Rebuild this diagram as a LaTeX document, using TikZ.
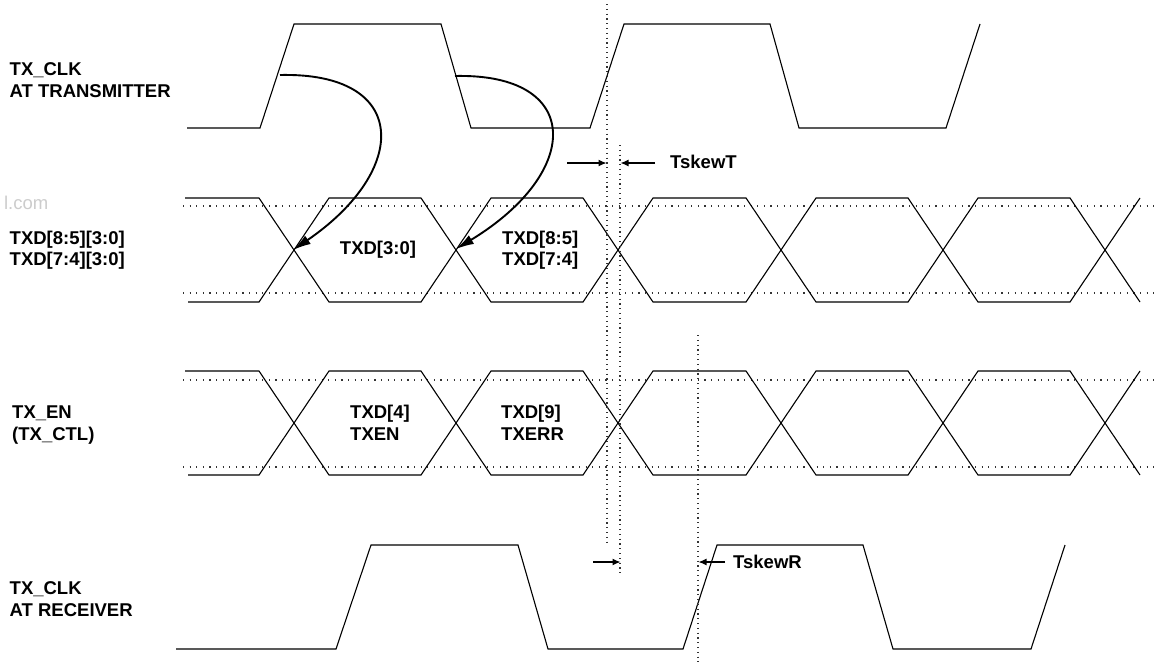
\documentclass[tikz,border=0pt]{standalone}
\usepackage{fontspec}
\setmainfont{Liberation Sans}
\usetikzlibrary{arrows.meta,positioning}

\begin{document}
\begin{tikzpicture}[x=1pt, y=-1pt,
            signal/.style={draw=black, line width=1.1pt},
            guideh/.style={draw=black!80, line width=1.1pt, dash pattern=on 1.2pt off 5.4pt},
            guidev/.style={draw=black!80, line width=1.1pt, dash pattern=on 1.2pt off 3.6pt},
            launch/.style={line width=1.9pt, -{Latex[length=18pt,width=10pt]}},
            skewarrow/.style={line width=1.2pt, -{Latex[length=8pt,width=7pt]}},
            signame/.style={anchor=west, align=left},
            field/.style={anchor=west, align=left},
            every node/.style={inner sep=0pt, font=\bfseries\fontsize{18.5}{21.5}\selectfont}]

            \useasboundingbox (0,0) rectangle (1156,662);

            \node (mark) [anchor=base east, text=black!20, font=\fontsize{18.5}{21.5}\selectfont] at (48.5,209) {l.com};

            % signal names
            \node (clkTname) [signame] at (9.5,80) {TX\_CLK\\AT TRANSMITTER};
            \node (txdname) [signame] at (9.5,250) {TXD[8:5][3:0]\\TXD[7:4][3:0]};
            \node (enname) [signame] at (12,425) {TX\_EN\\(TX\_CTL)};
            \node (clkRname) [signame] at (9.5,599) {TX\_CLK\\AT RECEIVER};

            % TX_CLK at transmitter
            \draw [signal] (187,128) -- (260,128) -- (294,24) -- (441,24) -- (471,128) -- (590,128) -- (624,24) -- (770,24) -- (799,128) -- (946,128) -- (980,24);

            % TXD eye
            \draw [guideh] (183,206) -- (1156,206);
            \draw [guideh] (183,293) -- (1156,293);
            \draw [signal] (185,198) -- (259,198) -- (329,302) -- (421,302) -- (491,198) -- (583,198) -- (653,302) -- (746,302) -- (816,198) -- (908,198) -- (978,302) -- (1070,302) -- (1140,198);
            \draw [signal] (188,302) -- (259,302) -- (329,198) -- (421,198) -- (491,302) -- (583,302) -- (653,198) -- (746,198) -- (816,302) -- (908,302) -- (978,198) -- (1070,198) -- (1140,302);
            \node (txdlow) at (378,250) {TXD[3:0]};
            \node (txdhigh) [field] at (502,250) {TXD[8:5]\\TXD[7:4]};

            % TX_EN eye
            \draw [guideh] (183,380) -- (1156,380);
            \draw [guideh] (183,467) -- (1156,467);
            \draw [signal] (185,371) -- (259,371) -- (329,475) -- (421,475) -- (491,371) -- (583,371) -- (653,475) -- (746,475) -- (816,371) -- (908,371) -- (978,475) -- (1070,475) -- (1140,371);
            \draw [signal] (188,475) -- (259,475) -- (329,371) -- (421,371) -- (491,475) -- (583,475) -- (653,371) -- (746,371) -- (816,475) -- (908,475) -- (978,371) -- (1070,371) -- (1140,475);
            \node (enlow) [field] at (350,423) {TXD[4]\\TXEN};
            \node (enhigh) [field] at (501,423) {TXD[9]\\TXERR};

            % TX_CLK at receiver
            \draw [signal] (176,649) -- (336,649) -- (371,545) -- (518,545) -- (548,649) -- (683,649) -- (717,545) -- (863,545) -- (893,649) -- (1031,649) -- (1065,545);

            % launch edges to data
            \coordinate (edgeT1) at (280,75);
            \coordinate (edgeT2) at (455,76);
            \coordinate (txdX1) at (293,250);
            \coordinate (txdX2) at (456,249);
            \draw [launch] (edgeT1) .. controls (410,72) and (410,170) .. (txdX1);
            \draw [launch] (edgeT2) .. controls (583,73) and (583,172) .. (txdX2);

            % skew markers
            \draw [guidev] (607,4) -- (607,543);
            \draw [guidev] (620,145) -- (620,577);
            \draw [guidev] (698,335) -- (698,662);

            \coordinate (tTleft) at (567,163);
            \coordinate (tTtipA) at (606.5,163);
            \coordinate (tTtipB) at (620.5,163);
            \coordinate (tTright) at (655,163);
            \draw [skewarrow] (tTleft) -- (tTtipA);
            \draw [skewarrow] (tTright) -- (tTtipB);
            \node (skewT) [right=15pt of tTright, yshift=1.5pt] {TskewT};

            \coordinate (tRleft) at (593,562);
            \coordinate (tRtipA) at (620.5,562);
            \coordinate (tRtipB) at (698.5,562);
            \coordinate (tRright) at (725,562);
            \draw [skewarrow] (tRleft) -- (tRtipA);
            \draw [skewarrow] (tRright) -- (tRtipB);
            \node (skewR) [right=8pt of tRright] {TskewR};
\end{tikzpicture}
\end{document}
